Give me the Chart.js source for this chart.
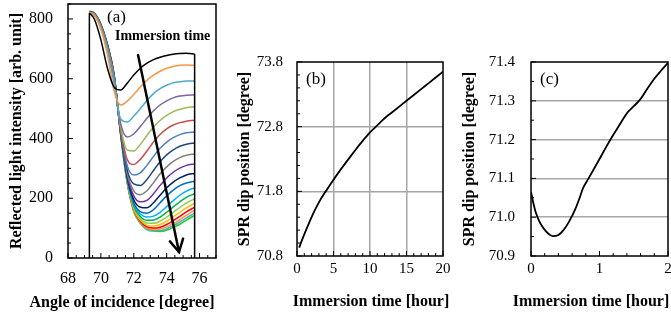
<!DOCTYPE html>
<html>
<head>
<meta charset="utf-8">
<script src="https://cdn.jsdelivr.net/npm/chart.js@4.4.0/dist/chart.umd.min.js"></script>
<style>
  html, body { margin: 0; padding: 0; background: #fff; }
  #wrap { position: relative; width: 671px; height: 320px; overflow: hidden; }
  canvas { position: absolute; top: 0; }
</style>
</head>
<body>
<div id="wrap">
  <canvas id="chart-a" width="225" height="320" style="left:0"></canvas>
  <canvas id="chart-b" width="228" height="320" style="left:225px"></canvas>
  <canvas id="chart-c" width="218" height="320" style="left:453px"></canvas>
</div>
<script>
// (a) reflectance vs angle, one curve per immersion step
const angles = [69.3, 69.6, 70.0, 70.4, 70.8, 71.2, 71.6, 72.0, 72.4, 72.8, 73.2, 73.6, 74.0, 74.4, 74.8, 75.2, 75.7];
const spectra = [
  [820, 800, 730, 635, 572, 562, 585, 612, 635, 652, 664, 672, 678, 682, 684, 685, 683],
  [822, 812, 765, 680, 560, 512, 525, 548, 572, 595, 612, 625, 635, 641, 645, 646, 645],
  [822, 813, 770, 695, 585, 465, 455, 475, 500, 527, 550, 567, 578, 586, 590, 592, 592],
  [822, 814, 772, 700, 595, 450, 405, 415, 440, 468, 493, 512, 526, 536, 542, 545, 546],
  [823, 815, 774, 703, 600, 440, 362, 358, 380, 410, 438, 460, 477, 490, 498, 503, 506],
  [823, 815, 775, 705, 603, 435, 330, 313, 330, 358, 388, 413, 432, 445, 453, 458, 461],
  [823, 816, 776, 707, 605, 430, 310, 278, 285, 310, 340, 367, 388, 403, 413, 419, 422],
  [824, 816, 777, 708, 607, 428, 295, 248, 243, 263, 293, 322, 345, 362, 374, 381, 385],
  [824, 817, 778, 709, 608, 425, 285, 225, 212, 225, 252, 282, 305, 323, 336, 344, 348],
  [824, 817, 778, 710, 609, 423, 278, 208, 188, 193, 215, 243, 268, 287, 301, 310, 315],
  [824, 817, 779, 711, 610, 422, 272, 195, 170, 168, 185, 210, 235, 254, 268, 278, 283],
  [824, 818, 779, 711, 611, 421, 268, 185, 155, 150, 162, 185, 208, 227, 242, 251, 257],
  [825, 818, 780, 712, 612, 420, 265, 180, 147, 137, 140, 153, 172, 192, 210, 224, 235],
  [825, 818, 780, 712, 612, 419, 262, 174, 139, 126, 127, 137, 153, 171, 188, 203, 215],
  [825, 818, 780, 713, 613, 418, 260, 169, 132, 117, 116, 123, 137, 153, 169, 184, 198],
  [825, 819, 781, 713, 613, 417, 258, 165, 127, 110, 107, 112, 123, 138, 153, 168, 183],
  [825, 819, 781, 714, 614, 416, 256, 162, 123, 104, 100, 103, 112, 125, 139, 154, 170],
  [826, 819, 781, 714, 614, 415, 254, 159, 120, 100, 95, 97, 104, 115, 128, 143, 160],
  [826, 819, 782, 714, 615, 415, 253, 157, 118, 97, 92, 92, 98, 108, 120, 134, 150],
  [826, 820, 782, 715, 615, 414, 252, 155, 116, 95, 90, 89, 93, 102, 113, 127, 142]
];
const angleTicks = [68, 70, 72, 74, 76];
const intensityTicks = [0, 200, 400, 600, 800];

// (b) dip position over 20 hours
const hoursB = [0.3, 0.8, 1.5, 2.2, 3, 4, 5, 6, 7, 8, 9, 10, 11, 12, 13, 14, 15, 16, 17, 18, 19, 20];
const dipB = [70.93, 71.08, 71.27, 71.45, 71.63, 71.81, 71.98, 72.14, 72.29, 72.44, 72.58, 72.71, 72.82, 72.93, 73.02, 73.11, 73.2, 73.29, 73.38, 73.47, 73.56, 73.65];
const hourTicksB = [0, 5, 10, 15, 20];
const dipTicksB = [70.8, 71.8, 72.8, 73.8];

// (c) dip position over the first 2 hours
const hoursC = [0, 0.03, 0.07, 0.12, 0.18, 0.25, 0.32, 0.4, 0.48, 0.56, 0.64, 0.7, 0.76, 0.84, 0.92, 1.0, 1.1, 1.2, 1.3, 1.4, 1.5, 1.6, 1.7, 1.8, 1.9, 2.0];
const dipC = [71.065, 71.04, 71.012, 70.99, 70.972, 70.958, 70.951, 70.954, 70.968, 70.99, 71.018, 71.045, 71.075, 71.1, 71.125, 71.15, 71.182, 71.212, 71.24, 71.268, 71.286, 71.305, 71.332, 71.357, 71.378, 71.398];
const hourTicksC = [0, 1, 2];
const dipTicksC = [70.9, 71.0, 71.1, 71.2, 71.3, 71.4];

const curveColors = ['#000000', '#f79646', '#4bacc6', '#8064a2', '#9bbb59', '#c0504d', '#4f81bd', '#1f497d',
  '#7f7f7f', '#7030a0', '#002060', '#0070c0', '#00b0f0', '#00b050', '#92d050', '#ffc000', '#ff0000',
  '#f79646', '#4bacc6', '#22cc22'];

const serif = '"Liberation Serif", "Times New Roman", serif';

// frame, inward ticks, x title and the panel letter
const panelPlugin = {
  id: 'panel',
  afterDraw(chart, args, opts) {
    const { ctx, chartArea: a, scales: { x, y } } = chart;
    ctx.save();
    ctx.strokeStyle = '#000';
    ctx.lineWidth = 1;
    const drawTicks = (scale, step, majors, horiz) => {
      const n = Math.round((scale.max - scale.min) / step);
      for (let k = 0; k <= n; k++) {
        const v = scale.min + k * step;
        const len = majors.some(m => Math.abs(m - v) < step / 10) ? 5 : 3;
        const p = scale.getPixelForValue(v);
        ctx.beginPath();
        if (horiz) { ctx.moveTo(p, a.bottom); ctx.lineTo(p, a.bottom - len); }
        else { ctx.moveTo(a.left, p); ctx.lineTo(a.left + len, p); }
        ctx.stroke();
      }
    };
    drawTicks(x, opts.xStep, opts.xMajor, true);
    drawTicks(y, opts.yStep, opts.yMajor, false);
    ctx.lineWidth = 1.5;
    ctx.strokeRect(a.left, a.top, a.right - a.left, a.bottom - a.top);
    ctx.fillStyle = '#000';
    ctx.font = '17px ' + serif;
    ctx.textBaseline = 'middle';
    ctx.fillText(opts.label, a.left + opts.labelDx, a.top + opts.labelDy);
    // x title drawn here so it is not squeezed to the plot width
    ctx.font = 'bold 16px ' + serif;
    ctx.textAlign = 'center';
    ctx.fillText(opts.xTitle, opts.xTitleX, opts.xTitleY);
    ctx.restore();
  }
};

// arrow + caption in panel (a)
const arrowPlugin = {
  id: 'arrow',
  afterDatasetsDraw(chart, args, opts) {
    if (!opts.from) return;
    const { ctx, chartArea: a, scales: { x, y } } = chart;
    const x0 = x.getPixelForValue(opts.from[0]), y0 = y.getPixelForValue(opts.from[1]);
    const x1 = x.getPixelForValue(opts.to[0]), y1 = y.getPixelForValue(opts.to[1]);
    ctx.save();
    ctx.strokeStyle = '#000';
    ctx.lineWidth = 2.5;
    ctx.lineCap = 'round';
    ctx.beginPath();
    ctx.moveTo(x0, y0);
    ctx.lineTo(x1, y1);
    ctx.stroke();
    const ang = Math.atan2(y1 - y0, x1 - x0);
    const head = 14, spread = 0.5;
    ctx.beginPath();
    ctx.moveTo(x1 - head * Math.cos(ang - spread), y1 - head * Math.sin(ang - spread));
    ctx.lineTo(x1, y1);
    ctx.lineTo(x1 - head * Math.cos(ang + spread), y1 - head * Math.sin(ang + spread));
    ctx.stroke();
    ctx.fillStyle = '#000';
    ctx.font = 'bold 14px ' + serif;
    ctx.textBaseline = 'middle';
    ctx.fillText('Immersion time', a.left + 47, a.top + 32);
    ctx.restore();
  }
};

function fixedTicks(values) {
  return scale => { scale.ticks = values.map(v => ({ value: v })); };
}

function innerGrid(lo, hi) {
  return ctx => (ctx.tick && ctx.tick.value > lo + 1e-6 && ctx.tick.value < hi - 1e-6) ? '#a6a6a6' : 'rgba(0,0,0,0)';
}

// fixed axis box size, no label overflow padding so the plot area sits where the layout says
function fixSize(prop, size) {
  return s => {
    s[prop] = size;
    s.paddingTop = 0; s.paddingBottom = 0; s.paddingLeft = 0; s.paddingRight = 0;
  };
}

function axis(opts) {
  return {
    type: 'linear',
    min: opts.min,
    max: opts.max,
    afterBuildTicks: fixedTicks(opts.ticks),
    afterFit: opts.fit,
    grid: opts.grid || { display: false, drawTicks: false },
    border: { display: false },
    ticks: {
      color: '#000',
      padding: opts.pad,
      font: { family: serif, size: opts.size },
      callback: opts.fmt || (v => v)
    },
    title: {
      display: !!opts.title,
      text: opts.title || '',
      color: '#000',
      font: { family: serif, size: 16, weight: 'bold' },
      padding: opts.titlePad
    }
  };
}

const common = {
  responsive: false,
  animation: false,
  events: [],
  plugins: { legend: { display: false }, tooltip: { enabled: false } },
  elements: { point: { radius: 0 } }
};

// panel (a)
const datasetsA = spectra.map((vals, i) => ({
  data: angles.map((ang, j) => ({ x: ang, y: vals[j] })),
  borderColor: curveColors[i],
  borderWidth: 1.5,
  cubicInterpolationMode: 'monotone'
}));
// vertical drops at both ends of the first spectrum
datasetsA.unshift(
  { data: [{ x: angles[0], y: 0 }, { x: angles[0], y: spectra[0][0] }], borderColor: '#000', borderWidth: 1.5 },
  { data: [{ x: angles[angles.length - 1], y: spectra[0][angles.length - 1] }, { x: angles[angles.length - 1], y: 0 }], borderColor: '#000', borderWidth: 1.5 }
);

new Chart(document.getElementById('chart-a'), {
  type: 'line',
  data: { datasets: datasetsA },
  options: {
    ...common,
    layout: { padding: { left: 0, top: 4, right: 9, bottom: 0 } },
    scales: {
      x: axis({ min: 68, max: 77, ticks: angleTicks, size: 16, pad: 11, fit: fixSize('height', 62) }),
      y: axis({ min: 0, max: 850, ticks: intensityTicks, size: 16, pad: 15, title: 'Reflected light intensity [arb. unit]',
        titlePad: { top: 7, bottom: 0 }, fit: fixSize('width', 68) })
    },
    plugins: {
      ...common.plugins,
      panel: { xStep: 0.5, xMajor: angleTicks, yStep: 50, yMajor: intensityTicks, label: '(a)', labelDx: 39, labelDy: 14,
        xTitle: 'Angle of incidence [degree]', xTitleX: 122, xTitleY: 303 },
      arrow: { from: [72.26, 679], to: [74.75, 20] }
    }
  },
  plugins: [panelPlugin, arrowPlugin]
});

// panel (b)
new Chart(document.getElementById('chart-b'), {
  type: 'line',
  data: { datasets: [{ data: hoursB.map((t, i) => ({ x: t, y: dipB[i] })), borderColor: '#000', borderWidth: 1.8, cubicInterpolationMode: 'monotone' }] },
  options: {
    ...common,
    layout: { padding: { left: 0, top: 62, right: 10, bottom: 0 } },
    scales: {
      x: axis({ min: 0, max: 20, ticks: hourTicksB, size: 15, pad: 4, fit: fixSize('height', 64),
        grid: { drawTicks: false, lineWidth: 1.5, color: innerGrid(0, 20) } }),
      y: axis({ min: 70.8, max: 73.8, ticks: dipTicksB, size: 15, pad: 14, title: 'SPR dip position [degree]',
        titlePad: { top: 10, bottom: 0 }, fit: fixSize('width', 72), fmt: v => v.toFixed(1),
        grid: { drawTicks: false, lineWidth: 1.5, color: innerGrid(70.8, 73.8) } })
    },
    plugins: {
      ...common.plugins,
      panel: { xStep: 1, xMajor: hourTicksB, yStep: 0.2, yMajor: dipTicksB, label: '(b)', labelDx: 9, labelDy: 18,
        xTitle: 'Immersion time [hour]', xTitleX: 146, xTitleY: 302 }
    }
  },
  plugins: [panelPlugin]
});

// panel (c)
new Chart(document.getElementById('chart-c'), {
  type: 'line',
  data: { datasets: [{ data: hoursC.map((t, i) => ({ x: t, y: dipC[i] })), borderColor: '#000', borderWidth: 1.8, cubicInterpolationMode: 'monotone' }] },
  options: {
    ...common,
    layout: { padding: { left: 0, top: 62, right: 3, bottom: 0 } },
    scales: {
      x: axis({ min: 0, max: 2, ticks: hourTicksC, size: 15, pad: 4, fit: fixSize('height', 64) }),
      y: axis({ min: 70.9, max: 71.4, ticks: dipTicksC, size: 15, pad: 16, title: 'SPR dip position [degree]',
        titlePad: { top: 7, bottom: 0 }, fit: fixSize('width', 78), fmt: v => v.toFixed(1),
        grid: { drawTicks: false, lineWidth: 1.5, color: innerGrid(70.9, 71.4) } })
    },
    plugins: {
      ...common.plugins,
      panel: { xStep: 0.2, xMajor: hourTicksC, yStep: 0.05, yMajor: dipTicksC, label: '(c)', labelDx: 9, labelDy: 18,
        xTitle: 'Immersion time [hour]', xTitleX: 138, xTitleY: 302 }
    }
  },
  plugins: [panelPlugin]
});
</script>
</body>
</html>
